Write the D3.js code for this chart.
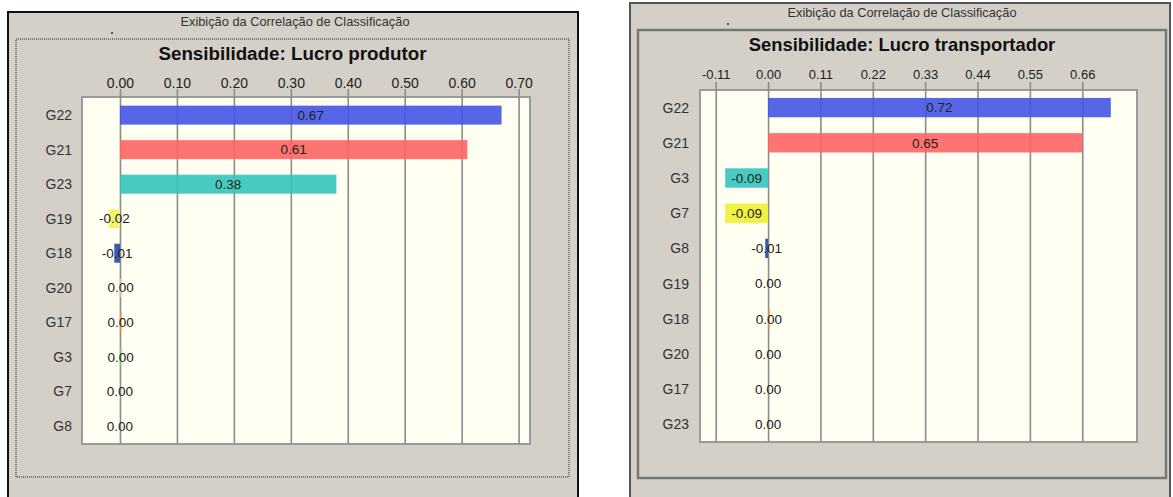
<!DOCTYPE html>
<html>
<head>
<meta charset="utf-8">
<script src="https://cdn.jsdelivr.net/npm/d3@7"></script>
<style>
  body { margin:0; background:#ffffff; }
  svg { display:block; font-family:"Liberation Sans", Arial, sans-serif; }
</style>
</head>
<body>
<svg id="screen" width="1173" height="497"></svg>
<script>
// produtor panel
var prodCats = ["G22","G21","G23","G19","G18","G20","G17","G3","G7","G8"];
var prodVals = [0.67, 0.61, 0.38, -0.02, -0.01, 0.002, 0.002, 0.002, 0.0, 0.0];
var prodColors = ["#4455e6","#ff6464","#33c4bb","#f2f260","#2747a5","#c8c8c8","#ff8a20","#66dd55","#888888","#888888"];
var prodTicks = [0, 0.1, 0.2, 0.3, 0.4, 0.5, 0.6, 0.7];

// transportador panel
var transCats = ["G22","G21","G3","G7","G8","G19","G18","G20","G17","G23"];
var transVals = [0.72, 0.66, -0.09, -0.09, -0.006, 0.0, 0.003, 0.0, 0.0, 0.0];
var transLabels = ["0.72","0.65","-0.09","-0.09","-0.01","0.00","0.00","0.00","0.00","0.00"];
var transColors = ["#4455e6","#ff6464","#33c4bb","#f0f030","#2747a5","#aaaaaa","#ff8a20","#aaaaaa","#aaaaaa","#aaaaaa"];
var transTicks = [-0.11, 0, 0.11, 0.22, 0.33, 0.44, 0.55, 0.66];

// plain hyphen for negatives, like the original
var fmt = d3.formatLocale({ decimal:".", thousands:",", grouping:[3], currency:["",""], minus:"-" }).format(".2f");

var svg = d3.select("#screen");

var drawFrame = function(f)
{
    svg.append("rect")
        .attr("x", f.x).attr("y", f.y)
        .attr("width", f.w).attr("height", f.h)
        .attr("fill", "#d4d0c8")
        .attr("stroke", f.edge)
        .attr("stroke-width", 2);
    svg.append("text")
        .attr("x", f.x + f.w / 2 + 2).attr("y", f.y + 14)
        .attr("text-anchor", "middle")
        .attr("font-size", 12.8)
        .attr("fill", "#333")
        .text("Exibição da Correlação de Classificação");
    svg.append("rect")
        .attr("x", f.dotX).attr("y", f.y + 20)
        .attr("width", 2).attr("height", 2)
        .attr("fill", "#555");
    svg.append("rect")
        .attr("x", f.ix).attr("y", f.iy)
        .attr("width", f.iw).attr("height", f.ih)
        .attr("fill", "none")
        .attr("stroke", "#777")
        .attr("stroke-width", f.dotted ? 2 : 2.5)
        .attr("stroke-dasharray", f.dotted ? "1,1" : null);
    svg.append("text")
        .attr("x", f.ix + f.iw / 2).attr("y", f.iy + 21)
        .attr("text-anchor", "middle")
        .attr("font-size", f.titleSize)
        .attr("font-weight", "bold")
        .attr("fill", "#111")
        .text(f.title);
}

var drawBars = function(p)
{
    var xScale = d3.scaleLinear()
        .domain(p.domain)
        .range([p.left, p.right]);
    var yScale = d3.scaleBand()
        .domain(p.cats)
        .range([p.top, p.bottom])
        .paddingInner(0.45)
        .paddingOuter(p.outer);

    svg.append("rect")
        .attr("x", p.left).attr("y", p.top)
        .attr("width", p.right - p.left).attr("height", p.bottom - p.top)
        .attr("fill", "#fffff2")
        .attr("stroke", "#9a9a9a")
        .attr("stroke-width", 2);

    var axis = d3.axisTop(xScale)
        .tickValues(p.ticks)
        .tickFormat(fmt)
        .tickSizeInner(-(p.bottom - p.top + 8))
        .tickSizeOuter(0)
        .tickPadding(p.tickPad);

    var g = svg.append("g")
        .attr("transform", "translate(0," + (p.top - 8) + ")")
        .call(axis);
    g.select(".domain").remove();
    g.selectAll("line")
        .attr("stroke", "#8c8c8c")
        .attr("stroke-width", 1.6);
    g.selectAll("text")
        .attr("font-size", p.tickSize)
        .attr("fill", "#222")
        .attr("font-family", "Liberation Sans, Arial, sans-serif");

    var rows = p.cats.map(function(c, i) {
        return { cat: c, val: p.vals[i], color: p.colors[i], label: p.labels ? p.labels[i] : fmt(p.vals[i]) };
    });

    svg.append("g")
        .selectAll("rect")
        .data(rows)
        .enter()
        .append("rect")
        .attr("x", function(d) { return xScale(Math.min(0, d.val)); })
        .attr("y", function(d) { return yScale(d.cat); })
        .attr("width", function(d) { return Math.max(Math.abs(xScale(d.val) - xScale(0)), d.val === 0 ? 0 : 1.5); })
        .attr("height", yScale.bandwidth())
        .attr("fill", function(d) { return d.color; })
        .attr("fill-opacity", 0.9);

    svg.append("g")
        .selectAll("text")
        .data(rows)
        .enter()
        .append("text")
        .attr("x", function(d) { return (xScale(d.val) + xScale(0)) / 2; })
        .attr("y", function(d) { return yScale(d.cat) + yScale.bandwidth() / 2; })
        .attr("dy", "0.35em")
        .attr("text-anchor", "middle")
        .attr("font-size", 13.5)
        .attr("fill", "#222")
        .text(function(d) { return d.label; });

    svg.append("g")
        .selectAll("text")
        .data(rows)
        .enter()
        .append("text")
        .attr("x", p.catX)
        .attr("y", function(d) { return yScale(d.cat) + yScale.bandwidth() / 2; })
        .attr("dy", "0.35em")
        .attr("text-anchor", "end")
        .attr("font-size", 14)
        .attr("fill", "#333")
        .text(function(d) { return d.cat; });
}

drawFrame({ x:8, y:12, w:570, h:500, edge:"#111", dotX:111,
            ix:16, iy:39, iw:553, ih:438, dotted:true, titleSize:18.8,
            title:"Sensibilidade: Lucro produtor" });
drawBars({ cats:prodCats, vals:prodVals, colors:prodColors, ticks:prodTicks,
           domain:[-0.0667, 0.72], left:82, right:530, top:97, bottom:444,
           outer:0.25, catX:72, tickSize:14, tickPad:1 });

drawFrame({ x:630, y:3, w:540, h:510, edge:"#555", dotX:727,
            ix:638, iy:30, iw:528, ih:448, dotted:false, titleSize:18.4,
            title:"Sensibilidade: Lucro transportador" });
drawBars({ cats:transCats, vals:transVals, colors:transColors, ticks:transTicks,
           labels:transLabels,
           domain:[-0.143, 0.775], left:700, right:1137, top:90, bottom:442,
           outer:0.225, catX:689, tickSize:13, tickPad:3 });
</script>
</body>
</html>
